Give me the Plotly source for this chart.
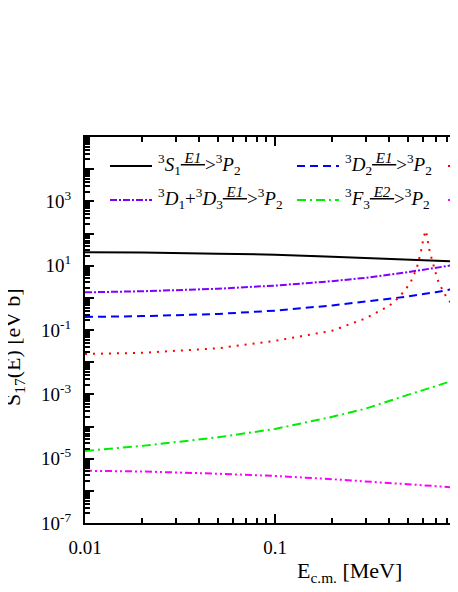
import plotly.graph_objects as go

# energies (MeV) for the smooth curves
energy = [0.01, 0.02, 0.05, 0.1, 0.2, 0.3, 0.5, 0.7, 0.92]
s_3s1 = [26, 25.5, 23.5, 22, 19, 17.5, 15.5, 14, 13.3]
s_3d13 = [1.48, 1.6, 1.92, 2.4, 3.3, 4.2, 6.3, 8.5, 11]
s_3d2 = [0.254, 0.27, 0.316, 0.40, 0.58, 0.76, 1.1, 1.5, 2.0]
s_3f3 = [1.74e-5, 2.5e-5, 4.6e-5, 8.4e-5, 2.0e-4, 3.6e-4, 9.6e-4, 1.8e-3, 3.0e-3]
s_mag = [4.2e-6, 4.0e-6, 3.4e-6, 2.9e-6, 2.3e-6, 2.0e-6, 1.6e-6, 1.4e-6, 1.23e-6]

# resonant (red dotted) curve, own energy grid
energy_res = [0.01, 0.02, 0.05, 0.1, 0.2, 0.3, 0.4, 0.45, 0.514, 0.557, 0.585,
              0.608, 0.624, 0.644, 0.66, 0.718, 0.753, 0.794, 0.851, 0.912]
s_res = [0.018, 0.0195, 0.027, 0.046, 0.095, 0.23, 0.57, 1.04, 2.8, 8.3, 26,
         85, 123, 37, 21, 3.6, 2.0, 1.12, 0.63, 0.35]

x_ticks = [0.01, 0.1, 1]
x_labels = ["0.01", "0.1", "1"]
y_exps = list(range(-7, 6))

FONT = "Liberation Serif"
# the page body has an 8px margin, so the figure is 8px smaller than the window
OFF = 8
W, H = 450, 584
L, R, T, B = 77, 0, 129, 69


def px(x):
    # screen pixel -> paper x
    return (x - OFF - L) / (W - L - R)


def py(y):
    # screen pixel -> paper y
    return (H - B - (y - OFF)) / (H - T - B)


series = [
    (energy, s_3s1, "black", "solid"),
    (energy, s_3d13, "#8000ff", "7px,2px,2px,2px"),
    (energy, s_3d2, "blue", "8px,5px"),
    (energy_res, s_res, "red", "2px,6px"),
    (energy, s_3f3, "#00ee00", "9px,4px,2px,4px"),
    (energy, s_mag, "magenta", "7px,3px,2px,3px,2px,3px"),
]

fig = go.Figure()
for xs, ys, col, dash in series:
    fig.add_trace(go.Scatter(x=xs, y=ys, mode="lines",
                             line=dict(color=col, width=2, dash=dash),
                             showlegend=False))

# legend built by hand (third column runs off the edge)
def arrow(lbl):
    return ("<sup><span style='font-size:15px'><u><i>&nbsp;" + lbl +
            "&nbsp;</i></u></span></sup>&gt;")


p2 = "<sup>3</sup><i>P</i><sub>2</sub>"
legend = [
    (110, 166, "black", "solid", "<sup>3</sup><i>S</i><sub>1</sub>" + arrow("E1") + p2),
    (297, 166, "blue", "8px,5px", "<sup>3</sup><i>D</i><sub>2</sub>" + arrow("E1") + p2),
    (448, 166, "red", "2px,6px", ""),
    (110, 200, "#8000ff", "7px,2px,2px,2px",
     "<sup>3</sup><i>D</i><sub>1</sub>+<sup>3</sup><i>D</i><sub>3</sub>" + arrow("E1") + p2),
    (297, 200, "#00ee00", "9px,4px,2px,4px",
     "<sup>3</sup><i>F</i><sub>3</sub>" + arrow("E2") + p2),
    (448, 200, "magenta", "7px,3px,2px,3px,2px,3px", ""),
]
for x0, y0, col, dash, txt in legend:
    fig.add_shape(type="line", xref="paper", yref="paper",
                  x0=px(x0), x1=px(x0 + 42), y0=py(y0), y1=py(y0),
                  line=dict(color=col, width=2, dash=dash))
    if txt:
        fig.add_annotation(xref="paper", yref="paper", x=px(x0 + 46), y=py(y0 - 2),
                           text=txt, showarrow=False, xanchor="left", yanchor="middle",
                           font=dict(family=FONT, size=19, color="black"))

fig.add_annotation(xref="paper", yref="paper", x=px(14), y=py(347),
                   text="S<sub>17</sub>(E) [eV b]", textangle=-90, showarrow=False,
                   xanchor="center", yanchor="middle",
                   font=dict(family=FONT, size=22, color="black"))
fig.add_annotation(xref="paper", yref="paper", x=px(349), y=py(572),
                   text="E<sub>c.m.</sub> [MeV]", showarrow=False,
                   xanchor="center", yanchor="middle",
                   font=dict(family=FONT, size=22, color="black"))

x_minor = [m * 10 ** d for d in (-2, -1) for m in range(2, 10)]
y_minor = [m * 10.0 ** d for d in range(-7, 5) for m in range(2, 10)]

fig.update_layout(
    width=W, height=H,
    margin=dict(l=L, r=R, t=T, b=B),
    paper_bgcolor="white", plot_bgcolor="white",
    font=dict(family=FONT, size=19, color="black"),
    xaxis=dict(type="log", range=[-2, -0.037], showgrid=False, zeroline=False,
               showline=True, linecolor="black", linewidth=2, mirror="ticks",
               ticks="inside", ticklen=9, tickwidth=1.5, tickcolor="black",
               tickmode="array", tickvals=x_ticks, ticktext=x_labels,
               ticklabelstandoff=6,
               minor=dict(tickvals=x_minor, ticks="inside", ticklen=5,
                          tickwidth=1.5, tickcolor="black")),
    yaxis=dict(type="log", range=[-7, 5], showgrid=False, zeroline=False,
               showline=True, linecolor="black", linewidth=2,
               ticks="inside", ticklen=9, tickwidth=1.5, tickcolor="black",
               tickmode="array", tickvals=[10.0 ** e for e in y_exps],
               ticktext=["10<sup>%d</sup>" % e if e % 2 and e < 5 else "" for e in y_exps],
               ticklabelstandoff=8,
               minor=dict(tickvals=y_minor, ticks="inside", ticklen=5,
                          tickwidth=1.5, tickcolor="black")),
)

fig.write_html("out.html")
